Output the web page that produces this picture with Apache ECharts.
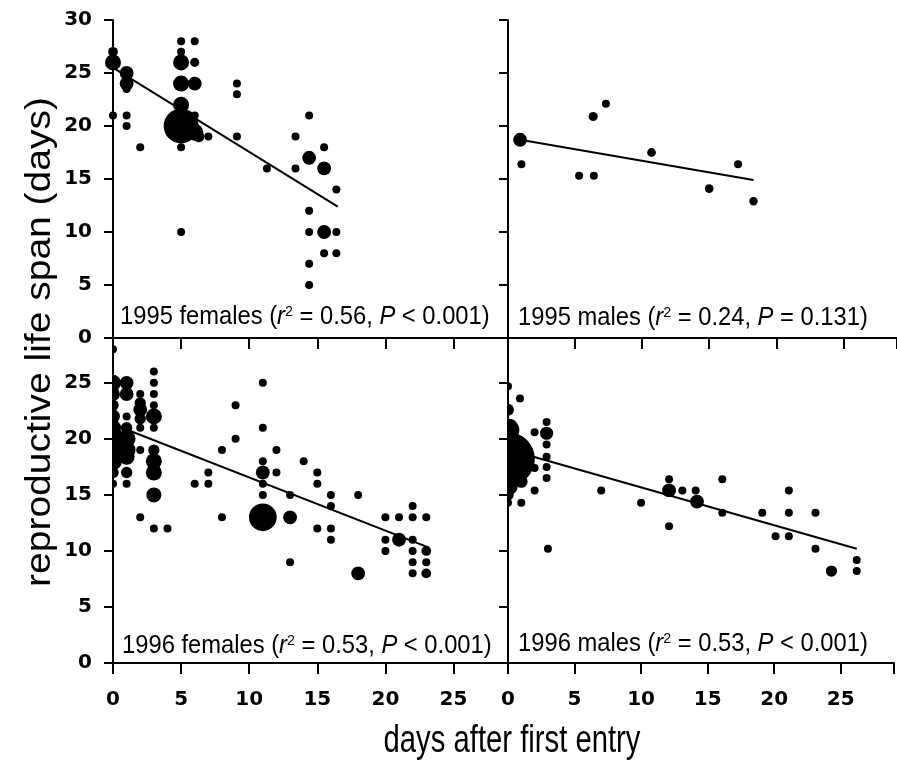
<!DOCTYPE html>
<html>
<head>
<meta charset="utf-8">
<script src="https://cdn.jsdelivr.net/npm/echarts@6/dist/echarts.min.js"></script>
<style>
html,body{margin:0;padding:0;background:#fff;}
#chart{width:897px;height:770px;}
</style>
</head>
<body>
<div id="chart"></div>
<script>
// ---- data: [days after first entry, reproductive life span (days), n individuals] ----
const females1995 = [
  [0,27,1.5],[0,26,4],[0,21,1],
  [1,25,3],[1,24,3],[1,23.5,1],[1,21,1],[1,20,1],
  [2,18,1],
  [5,28,1],[5,27,1],[5,26,4],[5,24,4],[5,22,4],[5,20,19],[5,18,1],[5,10,1],
  [6,28,1],[6,26,1.3],[6,24,3],[6,21,1],[6,19.4,4.5],[6.3,19,2],
  [7,19,1],
  [9.1,24,1],[9.1,23,1],[9.1,19,1],
  [11.3,16,1],
  [13.4,19,1],[13.4,16,1],
  [14.4,21,1],[14.4,17,3],[14.4,12,1],[14.4,10,1],[14.4,7,1],[14.4,5,1],
  [15.5,18,1],[15.5,16,3],[15.5,10,3],[15.5,8,1],
  [16.4,14,1],[16.4,10,1],[16.4,8,1]
];
const males1995 = [
  [0.9,18.7,3],[1,16.4,1],[5.3,15.3,1],[6.4,15.3,1],[6.35,20.9,1.3],[7.3,22.1,1],
  [10.7,17.5,1.2],[15.0,14.1,1.2],[17.15,16.4,1],[18.3,12.9,1.1]
];
const females1996 = [
  [0,28,1],[0,25,4],[0,24,3],[0,23,2],[0,22,3],[0,21,4],[0,20,9],[0,19,8],[0,18,5],[0,17,2],[0,16,1],
  [1,25,3],[1,24,3],[1,22,1],[1,21,2],[1,20,5],[1,19,5],[1,18.4,4],[1,17,2],[1,16,1],
  [2,24,1],[2,23.2,2],[2,22.6,3],[2,21.8,2],[2,21,1],[2,19,1],[2,13,1],
  [3,26,1],[3,25,1],[3,24,1],[3,23,1],[3,22,4],[3,21,1],[3,19,2],[3,18,4],[3,17,4],[3,15,3.5],[3,12,1],
  [4,12,1],[6,16,1],[7,17,1],[7,16,1],[8,19,1],[8,13,1],[9,23,1],[9,20,1],
  [11,25,1],[11,21,1],[11,18,1],[11,17,3],[11,16,1],[11,15,1],[11,13,12],
  [12,19,1],[12,17,1],[13,15,1],[13,13,3],[13,9,1],[14,18,1],
  [15,17,1],[15,16,1],[15,12,1],
  [16,15,1],[16,14,1],[16,12,1],[16,11,1],
  [18,15,1],[18,8,3],
  [20,13,1],[20,11,1],[20,10,1],
  [21,13,1],[21,11,3],
  [22,14,1],[22,13,1],[22,11,1],[22,10,1],[22,9,1],[22,8,1],
  [23,13,1],[23,10,1.5],[23,9,1],[23,8,1.5]
];
const males1996 = [
  [0,18.2,45],[0,24.7,1],[0,22.6,2.2],[0,20.8,8],[0,15.8,6],[0,15,2],[0,14.3,1],
  [0.9,23.6,1],[1,16.2,2.5],[1,14.3,1],
  [2,20.6,1],[2,17.4,1],[2,15.4,1],
  [2.9,21.5,1],[2.9,20.5,2.7],[2.9,19.5,1],[2.9,18.4,1],[2.9,17.5,1],[2.9,16.5,1],[3,10.2,1],
  [7,15.4,1],[10,14.3,1],
  [12.1,16.4,1],[12.1,15.4,3],[12.1,12.2,1],
  [13.1,15.4,1],[14.1,15.4,1],[14.2,14.4,3],
  [16.1,16.4,1],[16.1,13.4,1],
  [19.1,13.4,1],[20.1,11.3,1],
  [21.1,15.4,1],[21.1,13.4,1],[21.1,11.3,1],
  [23.1,13.4,1],[23.1,10.2,1],
  [24.3,8.2,2],
  [26.2,9.2,1],[26.2,8.2,1]
];
// regression lines (end points)
const fitF1995 = [[0,25.5],[16.5,12.4]];
const fitM1995 = [[0.9,18.7],[18.3,14.9]];
const fitF1996 = [[0,21.3],[23.2,10.3]];
const fitM1996 = [[0,19.05],[26.2,10.2]];

const panelLabels = [
  {group:'1995 females', r2:'0.56', p:'< 0.001'},
  {group:'1995 males',   r2:'0.24', p:'= 0.131'},
  {group:'1996 females', r2:'0.53', p:'< 0.001'},
  {group:'1996 males',   r2:'0.53', p:'< 0.001'}
];
const xTitle = 'days after first entry';
const yTitle = 'reproductive life span (days)';
const xMax = 29, yMaxTop = 30, yMaxBottom = 29, tickStep = 5;

// ---- layout ----
const grids = [
  {left:113, top:20,  width:395, height:318},
  {left:508, top:20,  width:395, height:318},
  {left:113, top:338, width:395, height:325},
  {left:508, top:338, width:395, height:325}
];
const labelFont = {fontFamily:'DejaVu Sans, Liberation Sans, sans-serif', fontWeight:'bold', fontSize:20, color:'#000'};
const lineStyle = {color:'#000', width:2};
const fmt = v => (v % tickStep === 0 ? String(v) : '');

const xAxes = grids.map((g,i) => ({
  type:'value', gridIndex:i, min:0, max:xMax, interval:tickStep, zlevel:1, z:10,
  axisLine:{show:true, onZero:false, lineStyle},
  axisTick:{show:true, length:11, lineStyle},
  splitLine:{show:false},
  axisLabel: i >= 2 ? Object.assign({show:true, margin:27, formatter:fmt}, labelFont) : {show:false}
}));
const yAxes = grids.map((g,i) => ({
  type:'value', gridIndex:i, min:0, max: i < 2 ? yMaxTop : yMaxBottom, interval:tickStep, zlevel:1, z:10,
  axisLine:{show:true, onZero:false, lineStyle},
  axisTick:{show:true, length:9, lineStyle},
  splitLine:{show:false},
  axisLabel: (i % 2 === 0) ? Object.assign({show:true, margin:21, formatter:fmt}, labelFont) : {show:false}
}));

const scatterSets = [females1995, males1995, females1996, males1996];
const fits = [fitF1995, fitM1995, fitF1996, fitM1996];
const series = [];
scatterSets.forEach((d,i) => {
  series.push({
    type:'scatter', xAxisIndex:i, yAxisIndex:i, data:d,
    symbol:'circle', symbolSize: v => 8*Math.sqrt(v[2]),
    itemStyle:{color:'#000', opacity:1}, silent:true, z:2
  });
  series.push({
    type:'line', xAxisIndex:i, yAxisIndex:i, data:fits[i],
    showSymbol:false, symbol:'none', lineStyle:{color:'#000', width:2}, silent:true, z:3
  });
});

const annPos = [[120,317],[518,318],[122,646],[518,644]];
const richStyle = {
  a:{fontSize:25, fontFamily:'Liberation Sans, Arial, sans-serif', fill:'#000'},
  i:{fontSize:25, fontFamily:'Liberation Sans, Arial, sans-serif', fontStyle:'italic', fill:'#000'},
  s:{fontSize:15, fontFamily:'Liberation Sans, Arial, sans-serif', fill:'#000', verticalAlign:'top'}
};
const graphics = [
  // mask left of the bottom y axes: marks at x = 0 are cut by the axis as in the original
  {type:'rect', shape:{x:92, y:342, width:20, height:330}, style:{fill:'#fff'}, zlevel:1, z:5, silent:true},
  {type:'rect', shape:{x:470, y:342, width:37, height:330}, style:{fill:'#fff'}, zlevel:1, z:5, silent:true}
];
panelLabels.forEach((p,i) => graphics.push({
  type:'text', x:annPos[i][0], y:annPos[i][1], scaleX:0.95, zlevel:1, z:12,
  style:{
    text:'{a|' + p.group + ' (}{i|r}{s|2}{a| = ' + p.r2 + ', }{i|P}{a| ' + p.p + ')}',
    rich: richStyle, align:'left', verticalAlign:'middle', fill:'#000'
  }
}));
graphics.push({
  type:'text', x:512, y:741, scaleX:0.75, zlevel:1, z:12,
  style:{text:xTitle, font:'39px "Liberation Sans", Arial, sans-serif', fill:'#000', align:'center', verticalAlign:'middle'}
});
graphics.push({
  type:'text', x:41, y:342, rotation:Math.PI/2, scaleY:0.88, zlevel:1, z:12,
  style:{text:yTitle, font:'39px "Liberation Sans", Arial, sans-serif', fill:'#000', align:'center', verticalAlign:'middle'}
});

const chart = echarts.init(document.getElementById('chart'), null, {renderer:'canvas'});
chart.setOption({
  animation:false,
  backgroundColor:'#fff',
  grid: grids,
  xAxis: xAxes,
  yAxis: yAxes,
  series: series,
  graphic: graphics
});
</script>
</body>
</html>
